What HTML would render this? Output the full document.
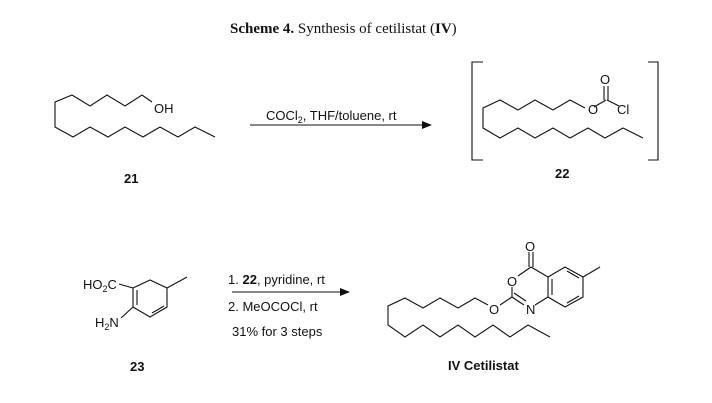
<!DOCTYPE html>
<html><head><style>
body{margin:0;background:#fff;}
svg{display:block;}
text{font-family:"Liberation Sans",Arial,sans-serif;fill:#111;}
</style></head><body>
<svg width="712" height="403" viewBox="0 0 712 403" xmlns="http://www.w3.org/2000/svg">
<text x="230" y="33" style="font-family:'Liberation Serif',serif;font-size:15px"><tspan font-weight="bold">Scheme 4.</tspan>  Synthesis of cetilistat (<tspan font-weight="bold">IV</tspan>)</text>
<g fill="none" stroke="#111" stroke-width="1.1">
<!-- 21 -->
<polyline points="152,102 142,95 125,106 107,95 90,106 72,95 55,102 55,127 73,137 90,127 108,137 125,127 143,137 160,127 178,137 195,127 215,137"/>
<!-- arrow 1 -->
<line x1="250" y1="125" x2="428" y2="125"/>
<!-- 22 brackets -->
<polyline points="483,62 472,62 472,160 483,160"/>
<polyline points="648,62 658,62 658,160 648,160"/>
<polyline points="585,108 570,100 553,110 535,100 518,110 500,100 483,108 483,128 500,138 518,128 535,138 553,128 570,138 588,128 605,138 623,128 643,138"/>
<line x1="594" y1="107" x2="606" y2="100"/>
<line x1="604" y1="100" x2="604" y2="86"/><line x1="608" y1="100" x2="608" y2="86"/>
<line x1="607" y1="100" x2="619" y2="106"/>
<!-- 23 -->
<polygon points="133,288 150,280 167,288 167,307 150,317 133,307"/>
<line x1="137" y1="305" x2="137" y2="290"/>
<line x1="152" y1="313" x2="164" y2="306"/>
<line x1="167" y1="288" x2="187" y2="277"/>
<line x1="119" y1="284" x2="133" y2="288"/>
<line x1="121" y1="318" x2="133" y2="307"/>
<!-- arrow 2 -->
<line x1="232" y1="292" x2="346" y2="292"/>
<!-- Cetilistat -->
<polyline points="488,305 475,298 458,308 440,298 423,308 405,298 388,306 388,325 405,337 423,325 440,337 458,325 475,337 493,325 510,337 528,325 550,337"/>
<line x1="500" y1="305" x2="512" y2="297"/>
<line x1="512" y1="297" x2="524" y2="305"/><line x1="514" y1="293" x2="526" y2="301"/>
<line x1="512" y1="297" x2="512" y2="287"/>
<line x1="518" y1="276" x2="531" y2="267"/>
<line x1="529" y1="267" x2="529" y2="252"/><line x1="533" y1="267" x2="533" y2="252"/>
<line x1="531" y1="267" x2="548" y2="277"/>
<line x1="535" y1="305" x2="548" y2="297"/>
<polygon points="548,277 565,267 583,277 583,297 565,307 548,297"/>
<line x1="552" y1="279" x2="552" y2="295"/>
<line x1="567" y1="271" x2="579" y2="278"/>
<line x1="567" y1="303" x2="579" y2="296"/>
<line x1="583" y1="277" x2="600" y2="267"/>
</g>
<polygon points="432,125 422,121 422,129" fill="#111"/>
<polygon points="350,292 340,288 340,296" fill="#111"/>
<text x="154" y="113" font-size="13">OH</text>
<text x="124" y="183" font-size="13" font-weight="bold">21</text>
<text x="266" y="120" font-size="13">COCl<tspan font-size="9" dy="3">2</tspan><tspan dy="-3">, THF/toluene, rt</tspan></text>
<text x="588" y="114" font-size="13">O</text>
<text x="600" y="84" font-size="13">O</text>
<text x="617" y="114" font-size="13">Cl</text>
<text x="555" y="178" font-size="13" font-weight="bold">22</text>
<text x="83" y="289" font-size="13">HO<tspan font-size="9" dy="3">2</tspan><tspan dy="-3">C</tspan></text>
<text x="95" y="327" font-size="13">H<tspan font-size="9" dy="3">2</tspan><tspan dy="-3">N</tspan></text>
<text x="130" y="371" font-size="13" font-weight="bold">23</text>
<text x="228" y="284" font-size="13">1. <tspan font-weight="bold">22</tspan>, pyridine, rt</text>
<text x="228" y="311" font-size="13">2. MeOCOCl, rt</text>
<text x="232" y="336" font-size="13">31% for 3 steps</text>
<text x="489" y="314" font-size="13">O</text>
<text x="507" y="286" font-size="13">O</text>
<text x="526" y="314" font-size="13">N</text>
<text x="525" y="251" font-size="13">O</text>
<text x="448" y="370" font-size="13" font-weight="bold">IV  Cetilistat</text>
</svg>
</body></html>
